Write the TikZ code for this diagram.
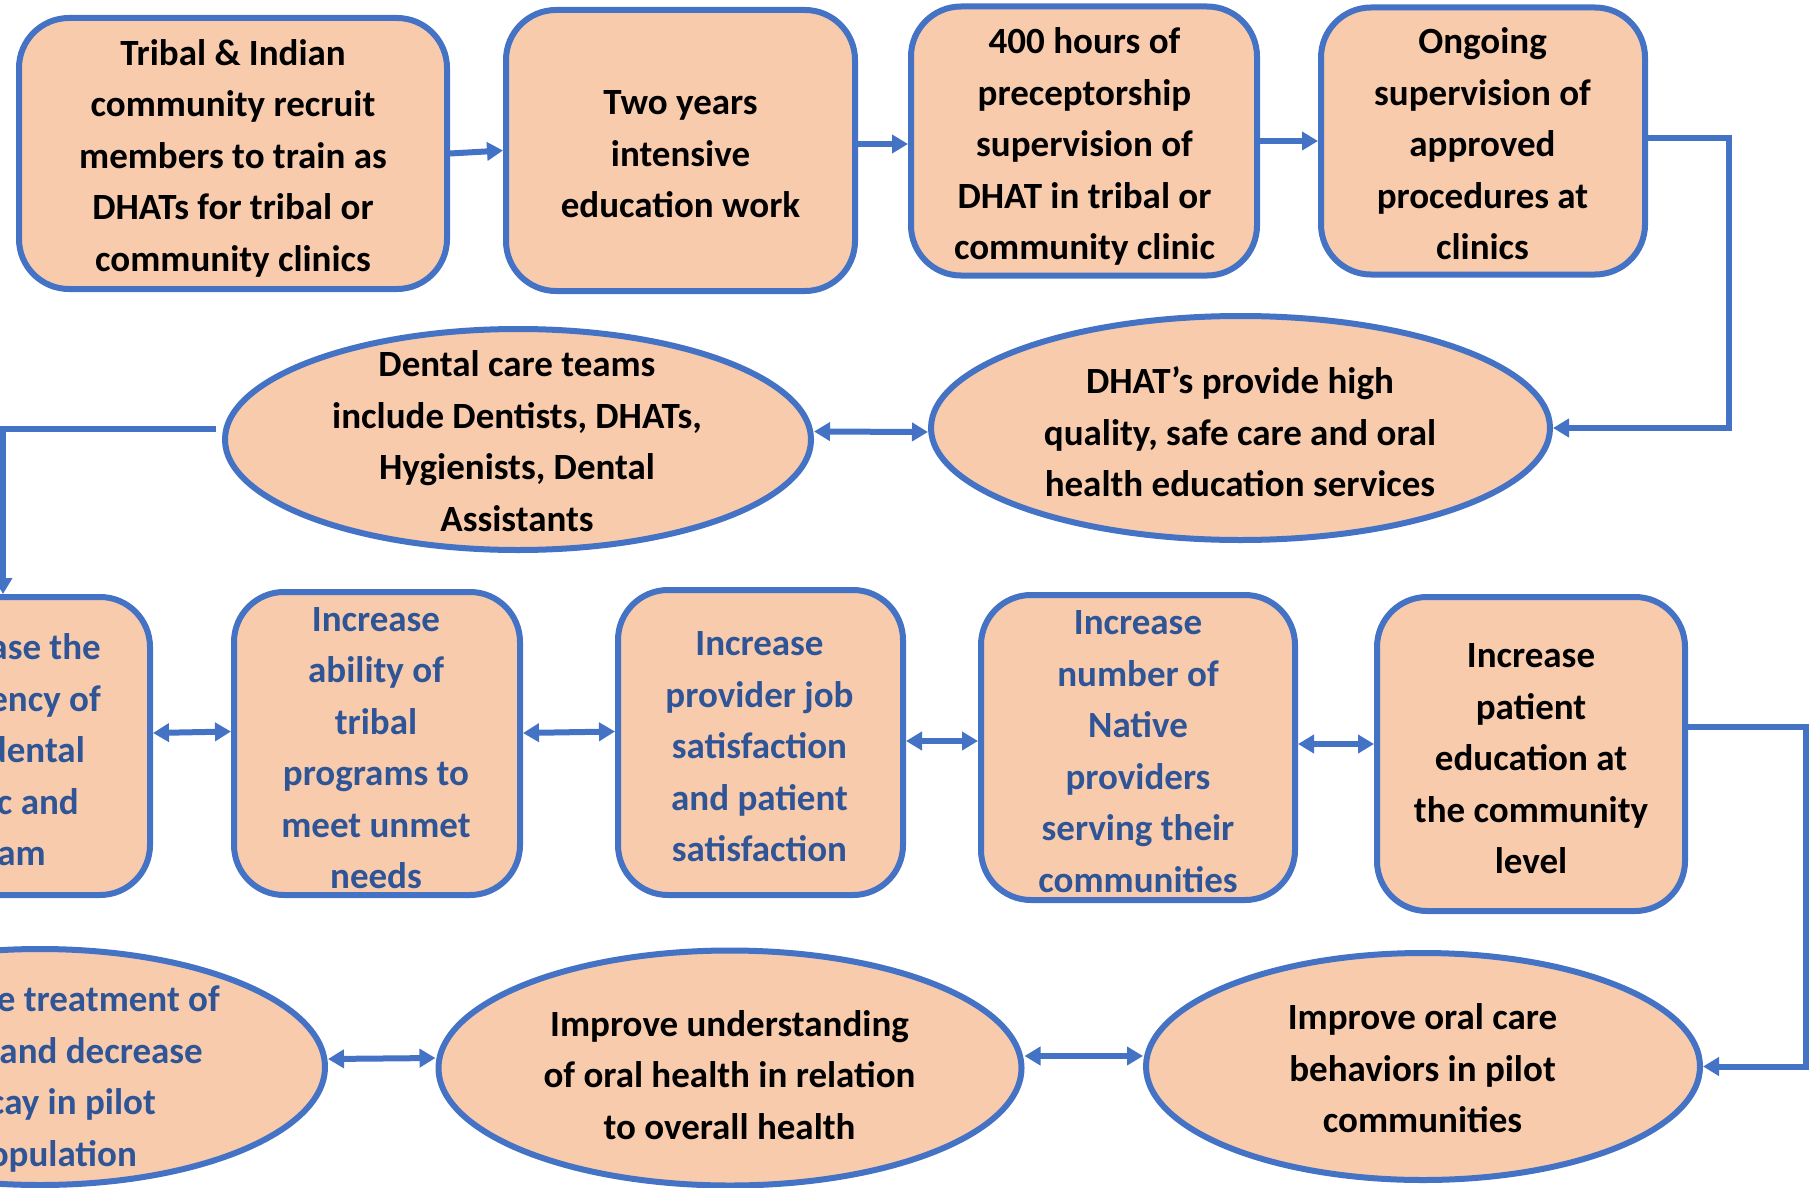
\documentclass[tikz,border=0pt]{standalone}
\usepackage{fontspec}
\setmainfont{Carlito}
\usetikzlibrary{arrows.meta,shapes.geometric}
\definecolor{edgeblue}{HTML}{4472C4}
\definecolor{peach}{HTML}{F8CBAD}
\definecolor{inkblue}{HTML}{2F5597}
\begin{document}
\begin{tikzpicture}[x=1pt,y=-1pt,
  >={Triangle[length=16pt,width=18pt]},
  box/.style={draw=edgeblue, fill=peach, line width=6pt, rounded corners=50pt, inner sep=0pt},
  oval/.style={draw=edgeblue, fill=peach, line width=6pt, ellipse, inner sep=0pt},
  txt/.style={font=\fontsize{37}{51.5}\selectfont\bfseries, align=center, inner sep=0pt},
  blu/.style={txt, text=inkblue},
  flow/.style={draw=edgeblue, line width=6pt, ->},
  link/.style={draw=edgeblue, line width=6pt, <->},
]
\useasboundingbox (0,0) rectangle (1809,1188);

% ---- top row: training pathway ----
\node[box, minimum width=428pt, minimum height=271pt] (b1) at (233,153.5) {};
\node[box, minimum width=349pt, minimum height=281pt] (b2) at (680.5,150.5) {};
\node[box, minimum width=346pt, minimum height=269pt] (b3) at (1084,141) {};
\node[box, minimum width=324pt, minimum height=267pt] (b4) at (1483,141) {};

% ---- second row: care teams ----
\node[oval, minimum width=586pt, minimum height=221pt] (e1) at (518,439.5) {};
\node[oval, minimum width=619pt, minimum height=224pt] (e2) at (1240.5,428) {};

% ---- third row: outcomes ----
\node[box, minimum width=285pt, minimum height=298pt] (m1) at (7.5,746) {};
\node[box, minimum width=286pt, minimum height=303pt] (m2) at (377,743.5) {};
\node[box, minimum width=285pt, minimum height=305pt] (m3) at (760.5,742.5) {};
\node[box, minimum width=314pt, minimum height=305pt] (m4) at (1138,747.5) {};
\node[box, minimum width=308pt, minimum height=314pt] (m5) at (1531,754) {};

% ---- bottom row: health results ----
\node[oval, minimum width=570pt, minimum height=236pt] (e3) at (40,1067) {};
\node[oval, minimum width=583pt, minimum height=235pt] (e4) at (730,1068) {};
\node[oval, minimum width=554pt, minimum height=227pt] (e5) at (1423,1066.5) {};

% ---- labels ----
\node[txt] (b1t) at (233,158) {\strut Tribal \& Indian\\community recruit\\members to train as\\DHATs for tribal or\\community clinics\strut};
\node[txt] (b2t) at (680.5,155.7) {\strut Two years\\intensive\\education work\strut};
\node[txt] (b3t) at (1084.5,146.5) {\strut 400 hours of\\preceptorship\\supervision of\\DHAT in tribal or\\community clinic\strut};
\node[txt] (b4t) at (1482.5,146.5) {\strut Ongoing\\supervision of\\approved\\procedures at\\clinics\strut};

\node[txt] (e1t) at (517,443.5) {\strut Dental care teams\\include Dentists, DHATs,\\Hygienists, Dental\\Assistants\strut};
\node[txt] (e2t) at (1240,435) {\strut DHAT’s provide high\\quality, safe care and oral\\health education services\strut};

\node[blu, align=right, anchor=east] (m1t) at (101,752.5) {\strut ase the\\ency of\\dental\rule{16pt}{0pt}\\c and\rule{22pt}{0pt}\\am\rule{55pt}{0pt}\strut};
\node[blu] (m2t) at (376,749.5) {\strut Increase\\ability of\\tribal\\programs to\\meet unmet\\needs\strut};
\node[blu] (m3t) at (759.5,748.5) {\strut Increase\\provider job\\satisfaction\\and patient\\satisfaction\strut};
\node[blu] (m4t) at (1138,753) {\strut Increase\\number of\\Native\\providers\\serving their\\communities\strut};
\node[txt] (m5t) at (1531,760.5) {\strut Increase\\patient\\education at\\the community\\level\strut};

\node[blu, align=right, anchor=east] (e3t) at (220,1078.5) {\strut e treatment of\\and decrease\rule{17pt}{0pt}\\cay in pilot\rule{64pt}{0pt}\\opulation\rule{83pt}{0pt}\strut};
\node[txt] (e4t) at (729.5,1077.5) {\strut Improve understanding\\of oral health in relation\\to overall health\strut};
\node[txt] (e5t) at (1422.5,1071) {\strut Improve oral care\\behaviors in pilot\\communities\strut};

% ---- connectors ----
\coordinate (rx1) at (1729,0);
\coordinate (lx) at (3,0);
\coordinate (rx2) at (1806,0);

\draw[flow] (b1.east) -- (b2.west);
\draw[flow] ([yshift=6.5pt]b2.east) -- ([yshift=-3pt]b3.west);
\draw[flow] (b3.east) -- (b4.west);
\draw[flow] ([yshift=3pt]b4.east) -| (rx1 |- e2.east) -- (e2.east);

\draw[link] ([yshift=8pt]e1.east) -- ([yshift=-4pt]e2.west);
\draw[flow] ([shift={(-6pt,10.5pt)}]e1.west) -| (lx |- m1.north);

\draw[link] ([yshift=13pt]m1.east) -- ([yshift=12pt]m2.west);
\draw[link] ([yshift=10.5pt]m2.east) -- ([yshift=11pt]m3.west);
\draw[link] ([yshift=1.5pt]m3.east) -- ([yshift=6.5pt]m4.west);
\draw[link] ([yshift=3.5pt]m4.east) -- ([yshift=10pt]m5.west);
\draw[flow] ([yshift=27pt]m5.east) -| (rx2 |- e5.east) -- (e5.east);

\draw[link] ([yshift=8pt]e3.east) -- ([yshift=10pt]e4.west);
\draw[link] ([yshift=12pt]e4.east) -- ([yshift=10.5pt]e5.west);
\end{tikzpicture}
\end{document}
